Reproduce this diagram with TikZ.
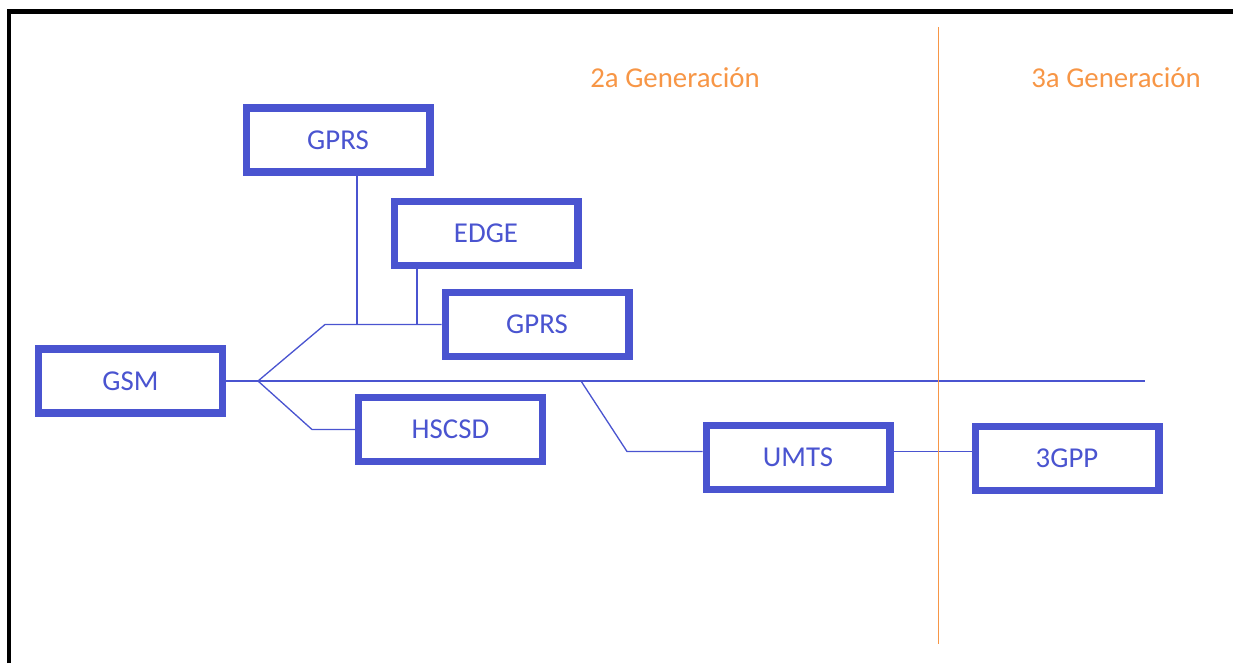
\documentclass[tikz,border=0pt]{standalone}
\usepackage{fontspec}
\setmainfont{Carlito}
\definecolor{boxblue}{RGB}{74,84,208}
\definecolor{genorange}{RGB}{247,150,70}

\begin{document}
\begin{tikzpicture}[x=0.02cm,y=-0.02cm,
    tech/.style={draw=boxblue,line width=4pt,text=boxblue,fill=white,
      minimum width=3.68cm,minimum height=1.28cm,inner sep=0pt,
      font=\fontsize{16.4}{19}\selectfont},
    link/.style={draw=boxblue,line width=0.75pt},
    gen/.style={text=genorange,anchor=base,font=\fontsize{16.4}{19}\selectfont}]
    \useasboundingbox (0,0) rectangle (1233,663);
    \draw[line width=2.3pt] (9,663) -- (9,11.5) -- (1233,11.5);

    % generaciones
    \node[gen] (gen2) at (675,87) {2a Generación};
    \node[gen] (gen3) at (1116,87) {3a Generación};

    % tecnologias
    \node[tech] (gsm) at (130.5,381) {GSM};
    \node[tech] (gprsa) at (338,140) {GPRS};
    \node[tech] (edge) at (486,233.5) {EDGE};
    \node[tech] (gprsb) at (537,324.5) {GPRS};
    \node[tech] (hscsd) at (450.5,429.5) {HSCSD};
    \node[tech] (umts) at (798,457.5) {UMTS};
    \node[tech] (tgpp) at (1067,458.5) {3GPP};

    % lineas
    \coordinate (fork) at (258,381);
    \coordinate (mainend) at (1145,381);
    \coordinate (up) at (325,324.5);
    \coordinate (down) at (312,429.5);
    \coordinate (ga) at (357,324.5);
    \coordinate (ea) at (417,324.5);
    \coordinate (split) at (581,381);
    \coordinate (bend) at (627,451.5);

    \draw[link] (gsm.east) -- (mainend);
    \draw[link] (fork) -- (up) -- (gprsb.west);
    \draw[link] (gprsa.south -| ga) -- (ga);
    \draw[link] (edge.south -| ea) -- (ea);
    \draw[link] (fork) -- (down) -- (hscsd.west);
    \draw[link] (split) -- (bend) -- (bend -| umts.west);
    \draw[link] (umts.east |- bend) -- (tgpp.west |- bend);

    \draw[genorange,line width=0.85pt] (938.5,27) -- (938.5,644);
\end{tikzpicture}
\end{document}
